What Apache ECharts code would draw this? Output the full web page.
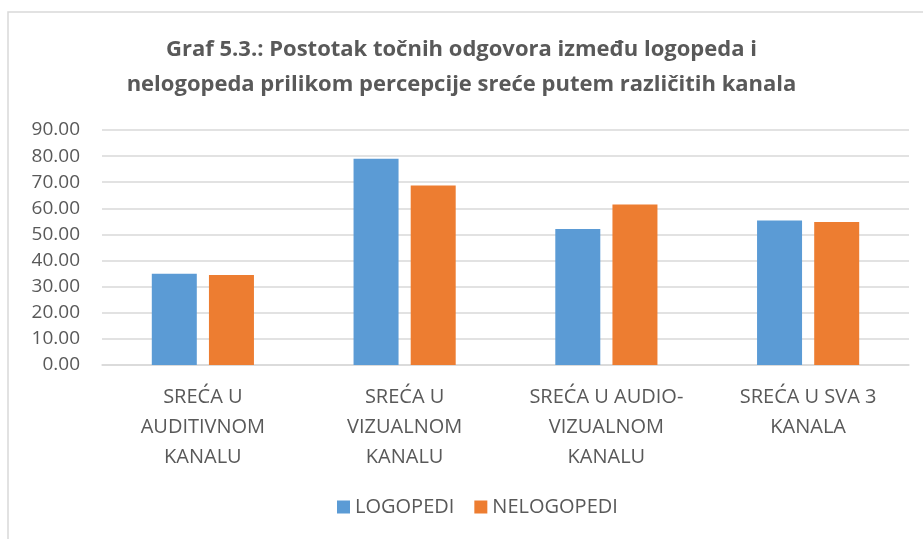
<!DOCTYPE html>
<html>
<head>
<meta charset="utf-8">
<script src="https://cdn.jsdelivr.net/npm/echarts@6/dist/echarts.min.js"></script>
<style>
  html, body { margin: 0; padding: 0; background: #fff; }
  #chart { width: 923px; height: 539px; }
</style>
</head>
<body>
<div id="chart"></div>
<script>
// kategorije (kanali)
const categories = [
  'SREĆA U\nAUDITIVNOM\nKANALU',
  'SREĆA U\nVIZUALNOM\nKANALU',
  'SREĆA U AUDIO-\nVIZUALNOM\nKANALU',
  'SREĆA U SVA 3\nKANALA'
];
// postotak točnih odgovora
const logopedi = [34.9, 79.0, 52.1, 55.3];
const nelogopedi = [34.5, 68.7, 61.5, 54.8];
const seriesNames = ['LOGOPEDI', 'NELOGOPEDI'];

const font = 'Open Sans';
const textColor = '#595959';

const myChart = echarts.init(document.getElementById('chart'));
const option = {
  animation: false,
  color: ['#5B9BD5', '#ED7D31'],
  title: {
    text: 'Graf 5.3.: Postotak točnih odgovora između logopeda i\nnelogopeda prilikom percepcije sreće putem različitih kanala',
    left: 'center',
    top: 27,
    textStyle: {
      fontFamily: font,
      fontWeight: 'bold',
      fontSize: 22,
      lineHeight: 35,
      color: textColor
    }
  },
  graphic: [{
    type: 'rect',
    shape: { x: 8, y: 12, width: 1000, height: 1000 },
    style: { fill: 'none', stroke: '#d9d9d9', lineWidth: 1.5 },
    silent: true
  }],
  legend: {
    data: seriesNames,
    bottom: 17,
    left: 332,
    icon: 'rect',
    itemWidth: 13,
    itemHeight: 13,
    itemGap: 20,
    textStyle: { fontFamily: font, fontSize: 20, color: textColor }
  },
  grid: { left: 102, right: 14, top: 130, bottom: 174 },
  xAxis: {
    type: 'category',
    data: categories,
    axisLine: { lineStyle: { color: '#d9d9d9', width: 1.5 } },
    axisTick: { show: false },
    axisLabel: {
      fontFamily: font,
      fontSize: 20,
      lineHeight: 30,
      color: textColor,
      margin: 17,
      interval: 0
    }
  },
  yAxis: {
    type: 'value',
    min: 0,
    max: 90,
    interval: 10,
    axisLine: { show: false },
    axisTick: { show: false },
    splitLine: { lineStyle: { color: '#d9d9d9', width: 1.5 } },
    axisLabel: {
      fontFamily: font,
      fontSize: 19,
      color: textColor,
      margin: 22,
      formatter: v => v.toFixed(2)
    }
  },
  series: [
    {
      name: seriesNames[0],
      type: 'bar',
      data: logopedi,
      barWidth: 45,
      barGap: '27%'
    },
    {
      name: seriesNames[1],
      type: 'bar',
      data: nelogopedi,
      barWidth: 45,
      barGap: '27%'
    }
  ]
};
myChart.setOption(option);
window.addEventListener('resize', () => myChart.resize());
</script>
</body>
</html>
